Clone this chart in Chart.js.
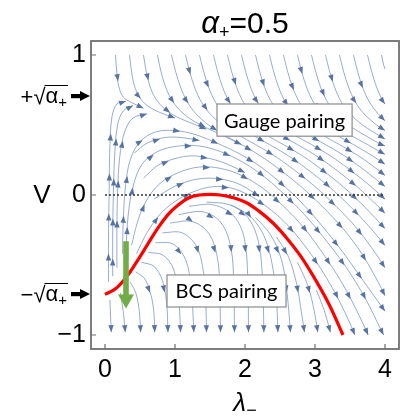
<!DOCTYPE html>
<html>
<head>
<meta charset="utf-8">
<script src="https://cdn.jsdelivr.net/npm/chart.js@4.4.1/dist/chart.umd.min.js"></script>
<style>
  html, body { margin: 0; padding: 0; background: #fff; }
</style>
</head>
<body>
<canvas id="flow" width="400" height="420"></canvas>
<script>
// ---- data ----
const xTicks = [0, 1, 2, 3, 4];
const yTicks = [-1, 0, 1];
const alphaPlus = 0.5;

const redLambda = [0, 0.15, 0.3, 0.45, 0.6, 0.75, 0.9, 1.05, 1.2, 1.35, 1.5, 1.65, 1.8, 2.0, 2.2, 2.4, 2.6, 2.8, 3.0, 3.2, 3.4];
const redV = [-0.71, -0.67, -0.59, -0.48, -0.36, -0.24, -0.14, -0.07, -0.02, 0, 0.005, 0, -0.015, -0.05, -0.115, -0.2, -0.31, -0.44, -0.6, -0.78, -1.0];

// green arrow: lambda, V start, V tip
const greenLambda = 0.3;
const greenV = [-0.33, -0.81];

// streamlines coming down from the top edge
const topLines = [
  [[0.15,1.0],[0.17,0.87],[0.2,0.77],[0.26,0.7],[0.38,0.66],[0.55,0.62]],
  [[0.35,1.0],[0.38,0.88],[0.42,0.78],[0.49,0.7],[0.6,0.64],[0.78,0.59],[1.0,0.55]],
  [[0.55,1.0],[0.59,0.88],[0.64,0.78],[0.71,0.7],[0.82,0.63],[0.98,0.57],[1.2,0.52],[1.45,0.47]],
  [[0.75,1.0],[0.8,0.88],[0.86,0.78],[0.94,0.69],[1.06,0.61],[1.23,0.54],[1.45,0.48],[1.7,0.42],[1.95,0.36]],
  [[0.95,1.0],[1.01,0.88],[1.08,0.77],[1.17,0.67],[1.3,0.58],[1.48,0.5],[1.7,0.43],[1.95,0.36],[2.22,0.28],[2.5,0.18],[2.8,0.06],[3.1,-0.08],[3.4,-0.24],[3.67,-0.42],[3.9,-0.62],[4.0,-0.72]],
  [[1.15,1.0],[1.21,0.88],[1.28,0.77],[1.37,0.67],[1.5,0.58],[1.68,0.5],[1.9,0.43],[2.15,0.36],[2.42,0.28],[2.7,0.18],[3.0,0.06],[3.3,-0.08],[3.6,-0.24],[3.87,-0.42],[4.0,-0.52]],
  [[1.35,1.0],[1.41,0.88],[1.48,0.77],[1.57,0.67],[1.7,0.58],[1.88,0.5],[2.1,0.43],[2.35,0.36],[2.62,0.28],[2.9,0.18],[3.2,0.06],[3.5,-0.08],[3.8,-0.24],[4.0,-0.36]],
  [[1.55,1.0],[1.61,0.88],[1.68,0.77],[1.77,0.67],[1.9,0.58],[2.08,0.5],[2.3,0.43],[2.55,0.36],[2.82,0.28],[3.1,0.18],[3.4,0.06],[3.7,-0.08],[4.0,-0.24]],
  [[1.75,1.0],[1.81,0.88],[1.88,0.77],[1.97,0.67],[2.1,0.58],[2.28,0.5],[2.5,0.43],[2.75,0.36],[3.02,0.28],[3.3,0.18],[3.6,0.06],[3.9,-0.08],[4.0,-0.13]],
  [[1.95,1.0],[2.01,0.88],[2.08,0.77],[2.17,0.67],[2.3,0.58],[2.48,0.5],[2.7,0.43],[2.95,0.36],[3.22,0.28],[3.5,0.18],[3.8,0.06],[4.0,-0.03]],
  [[2.15,1.0],[2.21,0.88],[2.28,0.77],[2.37,0.67],[2.5,0.58],[2.68,0.5],[2.9,0.43],[3.15,0.36],[3.42,0.28],[3.7,0.18],[4.0,0.06]],
  [[2.35,1.0],[2.41,0.88],[2.48,0.77],[2.57,0.67],[2.7,0.58],[2.88,0.5],[3.1,0.43],[3.35,0.36],[3.62,0.28],[3.9,0.18],[4.0,0.14]],
  [[2.55,1.0],[2.61,0.88],[2.68,0.77],[2.77,0.67],[2.9,0.58],[3.08,0.5],[3.3,0.43],[3.55,0.36],[3.82,0.28],[4.0,0.22]],
  [[2.75,1.0],[2.81,0.88],[2.88,0.77],[2.97,0.67],[3.1,0.58],[3.28,0.5],[3.5,0.43],[3.75,0.36],[4.0,0.29]],
  [[2.95,1.0],[3.01,0.88],[3.08,0.77],[3.17,0.67],[3.3,0.58],[3.48,0.5],[3.7,0.43],[3.95,0.36],[4.0,0.35]],
  [[3.15,1.0],[3.21,0.88],[3.28,0.77],[3.37,0.67],[3.5,0.58],[3.68,0.5],[3.9,0.43],[4.0,0.4]],
  [[3.35,1.0],[3.41,0.88],[3.48,0.77],[3.57,0.67],[3.7,0.58],[3.88,0.5],[4.0,0.46]],
  [[3.55,1.0],[3.61,0.88],[3.68,0.77],[3.77,0.67],[3.9,0.58],[4.0,0.53]],
  [[3.75,1.0],[3.81,0.88],[3.88,0.77],[3.97,0.67],[4.0,0.65]],
  [[3.95,1.0],[3.98,0.93],[4.0,0.9]]
];

// streamlines rising on the left, above the red curve
const upperArcs = [
  [[0.05,-0.62],[0.05,-0.3],[0.06,0.05],[0.07,0.35],[0.1,0.56],[0.17,0.65],[0.3,0.67]],
  [[0.11,-0.58],[0.11,-0.28],[0.12,0.02],[0.14,0.3],[0.18,0.5],[0.26,0.6],[0.4,0.64]],
  [[0.17,-0.52],[0.17,-0.25],[0.18,0.02],[0.21,0.27],[0.28,0.45],[0.4,0.55],[0.6,0.58]],
  [[0.25,-0.42],[0.26,-0.2],[0.29,0.05],[0.36,0.25],[0.5,0.38],[0.72,0.45],[1.0,0.46],[1.3,0.43],[1.6,0.37],[1.9,0.3],[2.2,0.21],[2.5,0.09],[2.8,-0.05],[3.1,-0.22],[3.4,-0.41],[3.7,-0.62],[4.0,-0.83]],
  [[0.42,0.3],[0.6,0.37],[0.85,0.41],[1.1,0.41],[1.35,0.39]],
  [[0.3,-0.38],[0.33,-0.15],[0.4,0.06],[0.53,0.22],[0.75,0.31],[1.05,0.35],[1.35,0.35],[1.65,0.31],[1.95,0.24],[2.25,0.14],[2.55,0.01],[2.85,-0.14],[3.15,-0.32],[3.45,-0.52],[3.72,-0.74],[3.95,-0.97],[3.98,-1.0]],
  [[0.55,0.12],[0.75,0.21],[1.0,0.26],[1.25,0.28],[1.5,0.26],[1.75,0.22],[2.0,0.16]],
  [[0.38,-0.36],[0.46,-0.2],[0.58,-0.05],[0.78,0.08],[1.05,0.16],[1.35,0.2],[1.65,0.19],[1.95,0.14],[2.25,0.05],[2.55,-0.08],[2.85,-0.24],[3.13,-0.43],[3.4,-0.64],[3.63,-0.86],[3.76,-1.0]],
  [[0.7,-0.03],[0.95,0.05],[1.2,0.1],[1.45,0.12],[1.7,0.11],[1.95,0.07],[2.2,-0.01]],
  [[0.45,-0.42],[0.6,-0.27],[0.8,-0.13],[1.05,-0.03],[1.3,0.03],[1.55,0.06],[1.8,0.05],[2.05,0.0],[2.3,-0.08],[2.58,-0.2],[2.85,-0.36],[3.1,-0.54],[3.33,-0.74],[3.52,-0.94],[3.57,-1.0]]
];

// streamlines bending down below the red curve
const lowerArcs = [
  [[0.07,-0.75],[0.08,-0.87],[0.09,-0.98]],
  [[0.22,-0.7],[0.26,-0.83],[0.29,-0.98]],
  [[0.36,-0.62],[0.44,-0.7],[0.49,-0.83],[0.51,-0.98]],
  [[0.44,-0.55],[0.57,-0.6],[0.66,-0.72],[0.7,-0.85],[0.71,-0.98]],
  [[0.52,-0.48],[0.7,-0.51],[0.82,-0.61],[0.88,-0.77],[0.9,-0.98]],
  [[0.62,-0.41],[0.83,-0.43],[0.98,-0.53],[1.05,-0.72],[1.08,-0.98]],
  [[0.72,-0.34],[0.97,-0.35],[1.15,-0.46],[1.23,-0.66],[1.27,-0.98]],
  [[0.82,-0.27],[1.1,-0.27],[1.31,-0.37],[1.41,-0.56],[1.44,-0.77],[1.45,-0.98]],
  [[0.93,-0.2],[1.25,-0.19],[1.49,-0.28],[1.61,-0.46],[1.64,-0.7],[1.65,-0.98]],
  [[1.05,-0.14],[1.4,-0.12],[1.66,-0.2],[1.8,-0.38],[1.84,-0.65],[1.85,-0.98]],
  [[1.2,-0.08],[1.55,-0.07],[1.84,-0.15],[1.99,-0.31],[2.04,-0.6],[2.05,-0.98]],
  [[1.45,-0.05],[1.78,-0.07],[2.04,-0.16],[2.19,-0.33],[2.25,-0.6],[2.27,-0.98]],
  [[1.8,-0.07],[2.07,-0.15],[2.27,-0.29],[2.39,-0.5],[2.45,-0.75],[2.47,-0.98]],
  [[2.15,-0.16],[2.36,-0.28],[2.52,-0.46],[2.6,-0.7],[2.65,-0.98]],
  [[2.45,-0.3],[2.62,-0.44],[2.74,-0.64],[2.81,-0.85],[2.85,-0.98]],
  [[2.75,-0.48],[2.9,-0.65],[2.99,-0.83],[3.04,-0.98]],
  [[3.02,-0.68],[3.13,-0.82],[3.22,-0.98]]
];

// ---- chart ----
const SANS = '"Liberation Sans", Arial, sans-serif';
const STREAM_LINE = 'rgba(94,129,181,0.72)';
const STREAM_HEAD = '#5773a3';

const toXY = (pts) => pts.map(p => ({ x: p[0], y: p[1] }));

const streamSets = [...topLines, ...upperArcs, ...lowerArcs].map(line => ({
  data: toXY(line),
  isStream: true,
  showLine: true,
  borderColor: STREAM_LINE,
  borderWidth: 0.9,
  pointRadius: 0,
  tension: 0.35,
  order: 3
}));

const datasets = [
  {
    data: redLambda.map((l, i) => ({ x: l, y: redV[i] })),
    showLine: true,
    borderColor: '#ff0000',
    borderWidth: 3.2,
    pointRadius: 0,
    tension: 0.4,
    order: 0
  },
  {
    data: [{ x: 0, y: 0 }, { x: 4, y: 0 }],
    showLine: true,
    borderColor: '#333',
    borderWidth: 1.3,
    borderDash: [2, 2],
    pointRadius: 0,
    order: 1
  },
  ...streamSets
];

// arrow heads along each streamline, spaced from the end backwards
const streamArrows = {
  id: 'streamArrows',
  afterDatasetDraw(chart, args) {
    const ds = chart.data.datasets[args.index];
    if (!ds.isStream) return;
    const pts = args.meta.data.map(e => ({ x: e.x, y: e.y }));
    const segs = [];
    let total = 0;
    for (let i = 1; i < pts.length; i++) {
      const dx = pts[i].x - pts[i - 1].x, dy = pts[i].y - pts[i - 1].y;
      const len = Math.hypot(dx, dy);
      segs.push({ a: pts[i - 1], dx, dy, len, start: total });
      total += len;
    }
    const ctx = chart.ctx;
    const area = chart.chartArea;
    ctx.save();
    ctx.beginPath();
    ctx.rect(area.left, area.top, area.right - area.left, area.bottom - area.top);
    ctx.clip();
    ctx.fillStyle = STREAM_HEAD;
    for (let s = total; s > 16; s -= 40) {
      const seg = segs.find(g => s >= g.start && s <= g.start + g.len + 1e-6) || segs[segs.length - 1];
      const t = seg.len ? (s - seg.start) / seg.len : 1;
      const x = seg.a.x + seg.dx * t, y = seg.a.y + seg.dy * t;
      const ux = seg.dx / seg.len, uy = seg.dy / seg.len;
      const L = 7, W = 2.7;
      ctx.beginPath();
      ctx.moveTo(x, y);
      ctx.lineTo(x - ux * L - uy * W, y - uy * L + ux * W);
      ctx.lineTo(x - ux * L + uy * W, y - uy * L - ux * W);
      ctx.closePath();
      ctx.fill();
    }
    ctx.restore();
  }
};

function drawBox(ctx, x1, y1, x2, y2, text) {
  ctx.save();
  ctx.fillStyle = '#fff';
  ctx.fillRect(x1, y1, x2 - x1, y2 - y1);
  ctx.strokeStyle = '#8a8a8a';
  ctx.lineWidth = 1.2;
  ctx.strokeRect(x1, y1, x2 - x1, y2 - y1);
  ctx.fillStyle = '#000';
  ctx.font = '20px Lato, "Open Sans", sans-serif';
  ctx.textAlign = 'center';
  ctx.textBaseline = 'middle';
  ctx.fillText(text, (x1 + x2) / 2, (y1 + y2) / 2 + 1);
  ctx.restore();
}

function drawSideArrow(ctx, y) {
  ctx.save();
  ctx.fillStyle = '#000';
  ctx.fillRect(71, y - 2, 11, 4.2);
  ctx.beginPath();
  ctx.moveTo(90, y);
  ctx.lineTo(80, y - 5);
  ctx.lineTo(80, y + 5);
  ctx.closePath();
  ctx.fill();
  ctx.restore();
}

function drawRootLabel(ctx, sign, y) {
  ctx.save();
  ctx.fillStyle = '#000';
  ctx.strokeStyle = '#000';
  ctx.textBaseline = 'alphabetic';
  const big = '22px ' + SANS, small = '15px ' + SANS;
  ctx.font = big;
  const wSign = ctx.measureText(sign).width;
  const wRoot = ctx.measureText('\u221A').width;
  const wA = ctx.measureText('\u03B1').width;
  ctx.font = small;
  const wSub = ctx.measureText('+').width;
  const right = 68;
  let x = right - (wSign + wRoot + wA + wSub + 1);
  ctx.font = big;
  ctx.fillText(sign, x, y + 8);
  x += wSign;
  ctx.fillText('\u221A', x, y + 8);
  x += wRoot;
  const lineStart = x - 1;
  ctx.fillText('\u03B1', x, y + 7);
  x += wA;
  ctx.font = small;
  ctx.fillText('+', x, y + 11);
  ctx.lineWidth = 1;
  ctx.beginPath();
  ctx.moveTo(lineStart, y - 10.5);
  ctx.lineTo(right, y - 10.5);
  ctx.stroke();
  ctx.restore();
}

const decorations = {
  id: 'decorations',
  afterDraw(chart) {
    const ctx = chart.ctx;
    const xs = chart.scales.x, ys = chart.scales.y;
    const area = chart.chartArea;

    // green arrow
    const gx = xs.getPixelForValue(greenLambda);
    const gy1 = ys.getPixelForValue(greenV[0]);
    const gy2 = ys.getPixelForValue(greenV[1]);
    ctx.save();
    ctx.fillStyle = '#70ad47';
    ctx.fillRect(gx - 2.8, gy1, 5.6, gy2 - gy1 - 13);
    ctx.beginPath();
    ctx.moveTo(gx, gy2);
    ctx.lineTo(gx - 8, gy2 - 14);
    ctx.lineTo(gx + 8, gy2 - 14);
    ctx.closePath();
    ctx.fill();
    ctx.restore();

    // labelled regions
    drawBox(ctx, xs.getPixelForValue(1.6), ys.getPixelForValue(0.65),
                 xs.getPixelForValue(3.53), ys.getPixelForValue(0.42), 'Gauge pairing');
    drawBox(ctx, xs.getPixelForValue(0.886), ys.getPixelForValue(-0.571),
                 xs.getPixelForValue(2.586), ys.getPixelForValue(-0.8), 'BCS pairing');

    // frame + inward ticks
    ctx.save();
    ctx.strokeStyle = '#6f6f6f';
    ctx.lineWidth = 1.8;
    ctx.strokeRect(area.left, area.top, area.right - area.left, area.bottom - area.top);
    ctx.lineWidth = 1.2;
    ctx.beginPath();
    xTicks.forEach(v => {
      const px = xs.getPixelForValue(v);
      ctx.moveTo(px, area.bottom);
      ctx.lineTo(px, area.bottom - 5);
    });
    yTicks.forEach(v => {
      const py = ys.getPixelForValue(v);
      ctx.moveTo(area.left, py);
      ctx.lineTo(area.left + 5, py);
    });
    ctx.stroke();
    ctx.restore();

    // left side markers at +/- sqrt(alpha+)
    const root = Math.sqrt(alphaPlus);
    const yPlus = ys.getPixelForValue(root), yMinus = ys.getPixelForValue(-root);
    drawSideArrow(ctx, yPlus);
    drawSideArrow(ctx, yMinus);
    drawRootLabel(ctx, '+', yPlus);
    drawRootLabel(ctx, '\u2212', yMinus);

    ctx.save();
    ctx.fillStyle = '#000';
    // V label
    ctx.font = '26px ' + SANS;
    ctx.textAlign = 'center';
    ctx.textBaseline = 'middle';
    ctx.fillText('V', 42, ys.getPixelForValue(0) + 1);

    // title  alpha_+ = 0.5
    const cx = (area.left + area.right) / 2;
    ctx.textAlign = 'left';
    ctx.textBaseline = 'alphabetic';
    const tBig = 'italic 31px ' + SANS, tNum = '30px ' + SANS, tSub = '18px ' + SANS;
    ctx.font = tBig; const wA = ctx.measureText('\u03B1').width;
    ctx.font = tSub; const wS = ctx.measureText('+').width;
    ctx.font = tNum; const wR = ctx.measureText('=0.5').width;
    let x = cx - (wA + wS + wR) / 2;
    ctx.font = tBig; ctx.fillText('\u03B1', x, 33); x += wA;
    ctx.font = tSub; ctx.fillText('+', x, 38); x += wS;
    ctx.font = tNum; ctx.fillText('=0.5', x, 33);

    // x axis title  lambda_-
    ctx.font = 'italic 26px ' + SANS; const wL = ctx.measureText('\u03BB').width;
    ctx.font = '18px ' + SANS; const wM = ctx.measureText('\u2212').width;
    x = cx - (wL + wM) / 2;
    ctx.font = 'italic 26px ' + SANS; ctx.fillText('\u03BB', x, 411); x += wL;
    ctx.font = '18px ' + SANS; ctx.fillText('\u2212', x, 416);
    ctx.restore();
  }
};

new Chart(document.getElementById('flow'), {
  type: 'scatter',
  data: { datasets },
  options: {
    responsive: false,
    animation: false,
    events: [],
    layout: { padding: { top: 41, right: 1, left: 0, bottom: 0 } },
    plugins: { legend: { display: false }, tooltip: { enabled: false } },
    scales: {
      x: {
        type: 'linear',
        min: -0.2,
        max: 4.2,
        afterBuildTicks: s => { s.ticks = xTicks.map(v => ({ value: v })); },
        afterFit: s => { s.height = 71; },
        grid: { display: false, drawTicks: false },
        border: { display: false },
        ticks: { color: '#000', font: { family: SANS, size: 25 }, padding: 6, maxRotation: 0, autoSkip: false }
      },
      y: {
        type: 'linear',
        min: -1.1,
        max: 1.1,
        afterBuildTicks: s => { s.ticks = yTicks.map(v => ({ value: v })); },
        afterFit: s => { s.width = 91; },
        grid: { display: false, drawTicks: false },
        border: { display: false },
        ticks: {
          color: '#000', font: { family: SANS, size: 25 }, padding: 5,
          callback: v => (v < 0 ? '\u2212' + Math.abs(v) : String(v))
        }
      }
    }
  },
  plugins: [streamArrows, decorations]
});
</script>
</body>
</html>
